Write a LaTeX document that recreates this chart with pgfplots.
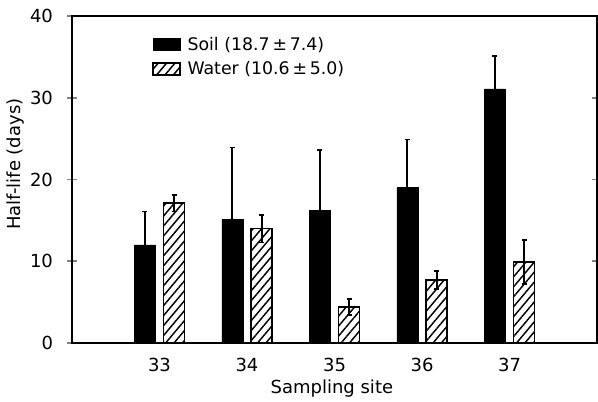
\documentclass[border=0pt]{standalone}
\usepackage{pgfplots}
\pgfplotsset{compat=1.18}
\usepackage{fontspec}
\setmainfont{DejaVu Sans}
\usetikzlibrary{patterns.meta}
\newcommand{\chartfont}{\fontsize{13.5}{15}\selectfont}
\begin{document}
\begin{tikzpicture}
\useasboundingbox (0,0) rectangle (448.5pt,-300.75pt);
\begin{axis}[
  at={(54pt,-257.25pt)}, anchor=south west,
  scale only axis, width=393.75pt, height=245.25pt,
  xmin=32, xmax=38, ymin=0, ymax=40,
  axis line style={line width=1.2pt},
  xtick={33,34,35,36,37},
  xtick style={draw=none},
  ytick={0,10,20,30,40},
  ytick style={line width=1.2pt},
  tick align=center, major tick length=7.5pt,
  /pgf/number format/assume math mode=true,
  tick label style={font=\chartfont},
  yticklabel style={xshift=-7pt},
  xticklabel style={yshift=-4pt},
  xlabel={Sampling site},
  ylabel={Half-life (days)},
  label style={font=\chartfont},
  xlabel style={at={(axis description cs:0.495,-0.140)}, anchor=center},
  ylabel style={at={(axis description cs:-0.107,0.547)}, anchor=center},
  bar width=0.24, bar shift=0pt,
  legend style={draw=none, fill=none, at={(0.152,0.945)}, anchor=north west,
    inner sep=0pt, font=\fontsize{13}{15}\selectfont, row sep=3pt},
  legend cell align=left,
  legend image code/.code={\draw[#1] (0pt,-4.5pt) rectangle (20.5pt,4.5pt);},
]
\addplot[ybar, bar shift=0pt, fill=black, draw=black,
  error bars/.cd, y dir=both, y explicit,
  error bar style={line width=1.3pt, black},
  error mark options={rotate=90, mark size=2pt, line width=1.3pt, black}]
  coordinates {
  (32.832,12.0) +- (0,4.1)
  (33.832,15.1) +- (0,8.8)
  (34.832,16.2) +- (0,7.4)
  (35.832,19.0) +- (0,5.9)
  (36.832,31.1) +- (0,4.0)
  };
\addlegendentry{\hspace*{3pt}Soil (18.7\,±\,7.4)}
\addplot[ybar, bar shift=0pt, draw=black, line width=1.1pt,
  pattern={Lines[angle=50, distance=4.8pt, line width=1.1pt]},
  error bars/.cd, y dir=both, y explicit,
  error bar style={line width=1.3pt, black},
  error mark options={rotate=90, mark size=2pt, line width=1.3pt, black}]
  coordinates {
  (33.168,17.1) +- (0,1.0)
  (34.168,14.0) +- (0,1.7)
  (35.168,4.4) +- (0,1.0)
  (36.168,7.7) +- (0,1.1)
  (37.168,9.9) +- (0,2.7)
  };
\addlegendentry{\hspace*{3pt}Water (10.6\,±\,5.0)}
\end{axis}
\end{tikzpicture}
\end{document}
